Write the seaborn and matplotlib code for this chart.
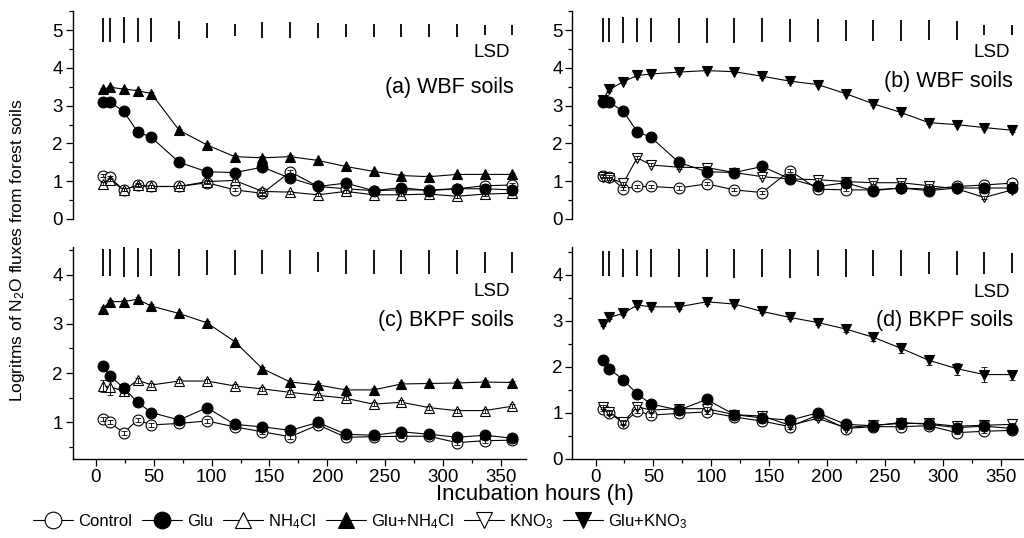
import numpy as np
import pandas as pd
import matplotlib
matplotlib.use('Agg')
import matplotlib.pyplot as plt
import seaborn as sns
from matplotlib.lines import Line2D
from matplotlib.ticker import MultipleLocator

sns.set_theme(style='ticks')
plt.rcParams['font.family'] = ['Liberation Sans', 'DejaVu Sans']
plt.rcParams['mathtext.default'] = 'regular'
plt.rcParams['text.color'] = 'black'
plt.rcParams['axes.labelcolor'] = 'black'
plt.rcParams['xtick.color'] = 'black'
plt.rcParams['ytick.color'] = 'black'
plt.rcParams['axes.edgecolor'] = 'black'

hours = [6, 12, 24, 36, 48, 72, 96, 120, 144, 168, 192, 216, 240, 264, 288, 312, 336, 360]

# ---- Panel (a) WBF soils ----
a_control = [1.15, 1.10, 0.77, 0.89, 0.86, 0.86, 0.96, 0.77, 0.68, 1.25, 0.86, 0.80, 0.75, 0.77, 0.77, 0.80, 0.88, 0.90]
a_glu = [3.10, 3.10, 2.85, 2.31, 2.16, 1.50, 1.25, 1.23, 1.37, 1.08, 0.86, 0.95, 0.75, 0.83, 0.75, 0.80, 0.80, 0.77]
a_nh4cl = [0.93, 1.04, 0.77, 0.90, 0.86, 0.86, 0.99, 1.02, 0.73, 0.71, 0.64, 0.73, 0.64, 0.64, 0.66, 0.60, 0.66, 0.68]
a_glu_nh4cl = [3.43, 3.49, 3.44, 3.40, 3.32, 2.35, 1.96, 1.65, 1.62, 1.65, 1.55, 1.39, 1.26, 1.15, 1.12, 1.18, 1.18, 1.18]
a_lsd = [0.64, 0.64, 0.70, 0.64, 0.64, 0.48, 0.39, 0.33, 0.41, 0.41, 0.39, 0.35, 0.35, 0.35, 0.35, 0.35, 0.25, 0.25]

# ---- Panel (b) WBF soils ----
b_control = [1.15, 1.12, 0.80, 0.86, 0.86, 0.82, 0.93, 0.77, 0.70, 1.28, 0.79, 0.77, 0.77, 0.82, 0.79, 0.86, 0.90, 0.95]
b_glu = [3.10, 3.09, 2.85, 2.31, 2.16, 1.50, 1.25, 1.23, 1.39, 1.06, 0.86, 0.96, 0.75, 0.82, 0.75, 0.82, 0.82, 0.82]
b_kno3 = [1.12, 1.08, 0.95, 1.62, 1.43, 1.37, 1.36, 1.23, 1.12, 1.06, 1.04, 0.99, 0.96, 0.96, 0.88, 0.80, 0.57, 0.77]
b_glu_kno3 = [3.16, 3.43, 3.64, 3.80, 3.84, 3.89, 3.93, 3.90, 3.78, 3.65, 3.56, 3.32, 3.05, 2.82, 2.55, 2.50, 2.42, 2.35]
b_lsd = [0.64, 0.64, 0.70, 0.64, 0.64, 0.67, 0.67, 0.67, 0.64, 0.61, 0.61, 0.56, 0.56, 0.56, 0.54, 0.50, 0.26, 0.26]

# ---- Panel (c) BKPF soils ----
c_control = [1.07, 1.00, 0.79, 1.05, 0.95, 0.98, 1.03, 0.91, 0.81, 0.71, 0.95, 0.70, 0.71, 0.72, 0.72, 0.59, 0.63, 0.64]
c_glu = [2.14, 1.95, 1.70, 1.41, 1.20, 1.05, 1.30, 0.96, 0.91, 0.84, 1.00, 0.76, 0.74, 0.81, 0.76, 0.70, 0.74, 0.68]
c_nh4cl = [1.74, 1.72, 1.64, 1.86, 1.76, 1.84, 1.84, 1.74, 1.68, 1.61, 1.55, 1.49, 1.37, 1.41, 1.30, 1.24, 1.24, 1.33]
c_nh4cl_err = [0.12, 0.16, 0.11, 0.05, 0.04, 0.04, 0.04, 0.04, 0.04, 0.04, 0.04, 0.04, 0.04, 0.04, 0.04, 0.04, 0.04, 0.04]
c_glu_nh4cl = [3.31, 3.45, 3.45, 3.50, 3.36, 3.21, 3.02, 2.64, 2.09, 1.82, 1.76, 1.66, 1.66, 1.78, 1.79, 1.80, 1.82, 1.81]
c_lsd = [0.55, 0.55, 0.60, 0.58, 0.55, 0.55, 0.51, 0.50, 0.48, 0.48, 0.40, 0.48, 0.48, 0.48, 0.48, 0.48, 0.43, 0.43]

# ---- Panel (d) BKPF soils ----
d_control = [1.08, 1.00, 0.78, 1.04, 0.95, 0.99, 1.02, 0.91, 0.82, 0.70, 0.95, 0.66, 0.70, 0.70, 0.72, 0.57, 0.60, 0.62]
d_glu = [2.14, 1.96, 1.71, 1.41, 1.19, 1.06, 1.29, 0.96, 0.89, 0.84, 1.00, 0.75, 0.72, 0.79, 0.75, 0.68, 0.71, 0.66]
d_kno3 = [1.13, 1.02, 0.80, 1.13, 1.06, 1.09, 1.09, 0.96, 0.93, 0.73, 0.88, 0.68, 0.73, 0.77, 0.77, 0.71, 0.73, 0.75]
d_glu_kno3 = [2.93, 3.07, 3.16, 3.34, 3.30, 3.30, 3.41, 3.36, 3.20, 3.07, 2.96, 2.82, 2.64, 2.40, 2.14, 1.96, 1.83, 1.83]
d_glu_kno3_err = [0.04, 0.04, 0.04, 0.04, 0.04, 0.04, 0.04, 0.04, 0.04, 0.04, 0.06, 0.07, 0.08, 0.10, 0.11, 0.13, 0.16, 0.11]
d_lsd = [0.54, 0.54, 0.59, 0.56, 0.59, 0.59, 0.59, 0.63, 0.62, 0.63, 0.58, 0.59, 0.56, 0.56, 0.49, 0.52, 0.47, 0.45]

small_err = [0.04] * len(hours)

L_CTRL, L_GLU = 'Control', 'Glu'
L_NH4, L_GNH4 = 'NH$_4$Cl', 'Glu+NH$_4$Cl'
L_KNO3, L_GKNO3 = 'KNO$_3$', 'Glu+KNO$_3$'

styles = {
    L_CTRL: dict(marker='o', mfc='white'),
    L_GLU: dict(marker='o', mfc='black'),
    L_NH4: dict(marker='^', mfc='white'),
    L_GNH4: dict(marker='^', mfc='black'),
    L_KNO3: dict(marker='v', mfc='white'),
    L_GKNO3: dict(marker='v', mfc='black'),
}

panels = [
    dict(title='(a) WBF soils', series=[(L_CTRL, a_control, small_err), (L_NH4, a_nh4cl, small_err),
                                        (L_GLU, a_glu, small_err), (L_GNH4, a_glu_nh4cl, small_err)],
         lsd=a_lsd, lsd_c=5.0, ylim=(0, 5.5), yt=[0, 1, 2, 3, 4, 5], lsd_y=4.42, lab_y=3.47),
    dict(title='(b) WBF soils', series=[(L_CTRL, b_control, small_err), (L_KNO3, b_kno3, small_err),
                                        (L_GLU, b_glu, small_err), (L_GKNO3, b_glu_kno3, small_err)],
         lsd=b_lsd, lsd_c=5.0, ylim=(0, 5.5), yt=[0, 1, 2, 3, 4, 5], lsd_y=4.42, lab_y=3.63),
    dict(title='(c) BKPF soils', series=[(L_CTRL, c_control, small_err), (L_NH4, c_nh4cl, c_nh4cl_err),
                                         (L_GLU, c_glu, small_err), (L_GNH4, c_glu_nh4cl, small_err)],
         lsd=c_lsd, lsd_c=4.25, ylim=(0.26, 4.56), yt=[1, 2, 3, 4], lsd_y=3.65, lab_y=3.07),
    dict(title='(d) BKPF soils', series=[(L_CTRL, d_control, small_err), (L_KNO3, d_kno3, small_err),
                                         (L_GLU, d_glu, small_err), (L_GKNO3, d_glu_kno3, d_glu_kno3_err)],
         lsd=d_lsd, lsd_c=4.25, ylim=(0, 4.6), yt=[0, 1, 2, 3, 4], lsd_y=3.62, lab_y=3.0),
]

fig = plt.figure(figsize=(10.24, 5.38), dpi=100)
rects = [[0.071, 0.593, 0.443, 0.386], [0.559, 0.593, 0.443, 0.386],
         [0.071, 0.147, 0.443, 0.394], [0.559, 0.147, 0.443, 0.394]]

for i, (p, r) in enumerate(zip(panels, rects)):
    ax = fig.add_axes(r)
    ax.set_facecolor('white')
    for name, vals, err in p['series']:
        st = styles[name]
        df = pd.DataFrame({'h': hours, 'v': vals})
        sns.lineplot(data=df, x='h', y='v', ax=ax, color='black', linewidth=0.8,
                     marker=st['marker'], markersize=7.8, markerfacecolor=st['mfc'],
                     markeredgecolor='black', markeredgewidth=0.8, legend=False, zorder=2)
        ax.errorbar(hours, vals, yerr=err, fmt='none', ecolor='black', elinewidth=0.6,
                    capsize=2.5, capthick=0.6, zorder=3)
    # LSD bars
    ax.errorbar(hours, [p['lsd_c']] * len(hours), yerr=np.array(p['lsd']) / 2, fmt='none',
                ecolor='black', elinewidth=1.3, capsize=0)
    ax.text(358, p['lsd_y'], 'LSD', ha='right', va='center', fontsize=13.5)
    ax.text(361, p['lab_y'], p['title'], ha='right', va='center', fontsize=15.5)

    ax.set_xlim(-20, 372)
    ax.set_ylim(*p['ylim'])
    ax.set_yticks(p['yt'])
    ax.yaxis.set_minor_locator(MultipleLocator(0.5))
    ax.set_xlabel('')
    ax.set_ylabel('')
    for s in ['top', 'right']:
        ax.spines[s].set_visible(False)
    ax.spines['left'].set_linewidth(1.0)
    ax.spines['left'].set_color('black')
    ax.tick_params(axis='both', which='major', direction='out', length=5, width=0.9,
                   labelsize=13.5, color='black', labelcolor='black', pad=2)
    ax.tick_params(axis='both', which='minor', direction='out', length=3, width=0.9, color='black')
    if i < 2:
        ax.spines['bottom'].set_visible(False)
        ax.set_xticks([])
        ax.tick_params(axis='x', which='both', bottom=False, labelbottom=False)
    else:
        ax.spines['bottom'].set_linewidth(1.0)
        ax.spines['bottom'].set_color('black')
        ax.set_xticks([0, 50, 100, 150, 200, 250, 300, 350])
        ax.xaxis.set_minor_locator(MultipleLocator(25))
    ax.grid(False)

fig.text(0.017, 0.535, 'Logritms of N$_2$O fluxes from forest soils', rotation=90,
         ha='center', va='center', fontsize=12.5, color='black')
fig.text(0.522, 0.100, 'Incubation hours (h)', ha='center', va='top', fontsize=16, color='black')

order = [L_CTRL, L_GLU, L_NH4, L_GNH4, L_KNO3, L_GKNO3]
handles = [Line2D([0], [0], color='black', linewidth=0.8, marker=styles[n]['marker'],
                  markersize=12, markerfacecolor=styles[n]['mfc'], markeredgecolor='black',
                  markeredgewidth=0.8) for n in order]
fig.legend(handles, order, loc='center left', bbox_to_anchor=(0.032, 0.031), ncol=6,
           frameon=False, fontsize=12, handlelength=2.4, handletextpad=0.3,
           columnspacing=0.6, borderpad=0, borderaxespad=0, labelcolor='black')

fig.savefig('out.png', dpi=100, facecolor='white')
